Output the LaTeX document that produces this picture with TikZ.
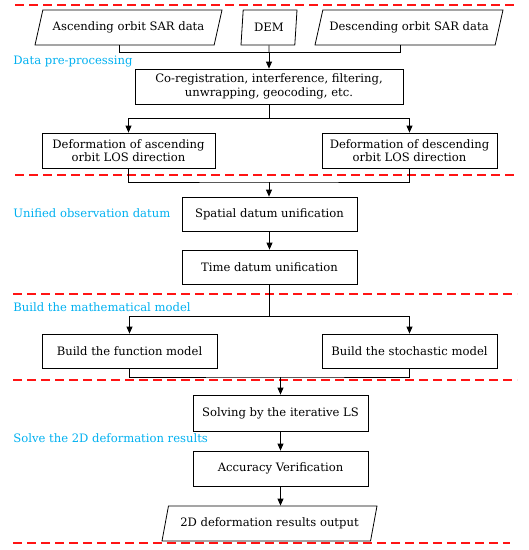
\documentclass[tikz,border=0pt]{standalone}
\usepackage{fontspec}
\setmainfont{DejaVu Serif}
\usetikzlibrary{shapes.geometric,arrows.meta}
\definecolor{stageblue}{RGB}{0,176,240}
\definecolor{sepred}{RGB}{255,20,20}
\begin{document}
\begin{tikzpicture}[
      x=1pt, y=-1pt,
      font=\fontsize{11.6}{13.5}\selectfont,
      proc/.style={draw, rectangle, line width=0.8pt, minimum width=175pt,
        minimum height=35pt, inner sep=2pt, align=center},
      io/.style={draw, trapezium, line width=0.8pt, trapezium stretches body,
        minimum height=35pt, inner sep=2pt, align=center},
      stage/.style={text=stageblue, anchor=west, inner sep=0pt},
      sep/.style={draw=sepred, line width=1.1pt, dash pattern=on 9pt off 5pt},
      arr/.style={-{Triangle[length=7pt,width=6pt]}},
      every path/.style={line width=0.8pt},
    ]
      \useasboundingbox (0,0) rectangle (529,550);

      % stage separators
      \draw[sep] (15,5) -- (516,5);
      \draw[sep] (15,175) -- (516,175);
      \draw[sep] (13,294) -- (517,294);
      \draw[sep] (13,380) -- (517,380);
      \draw[sep] (13,543) -- (510,543);

      % stage names
      \node[stage] (lpre) at (13,62) {Data pre-processing};
      \node[stage] (luni) at (13,213) {Unified observation datum};
      \node[stage] (lmod) at (13,307) {Build the mathematical model};
      \node[stage] (lsol) at (13,438) {Solve the 2D deformation results};

      % input data
      \node[io, trapezium left angle=63, trapezium right angle=117,
        minimum width=187pt] (asc) at (128.5,27.5) {Ascending orbit SAR data};
      \node[io, trapezium left angle=80, trapezium right angle=100,
        minimum width=56pt] (dem) at (269,27.5) {DEM};
      \node[io, trapezium left angle=63, trapezium right angle=117,
        minimum width=188pt] (desc) at (409,27.5) {Descending orbit SAR data};

      % processing steps
      \node[proc, minimum width=268pt] (coreg) at (269,86.5)
        {Co-registration, interference, filtering,\\unwrapping, geocoding, etc.};
      \node[proc, minimum width=173pt] (defa) at (128.5,150.5)
        {Deformation of ascending\\orbit LOS direction};
      \node[proc] (defd) at (409.5,150.5)
        {Deformation of descending\\orbit LOS direction};
      \node[proc, minimum height=34pt] (spat) at (269.5,214) {Spatial datum unification};
      \node[proc, minimum height=34pt] (time) at (269.5,267) {Time datum unification};
      \node[proc, minimum height=34pt] (func) at (129.5,351) {Build the function model};
      \node[proc, minimum height=34pt] (stoc) at (409.5,351) {Build the stochastic model};
      \node[proc, minimum height=36pt] (solv) at (280.5,413) {Solving by the iterative LS};
      \node[proc] (acc) at (280.5,468.5) {Accuracy Verification};
      \node[io, trapezium left angle=67, trapezium right angle=113,
        minimum width=215pt] (out) at (269.5,523.5) {2D deformation results output};

      % junctions
      \coordinate (ja) at (119,52);
      \coordinate (jd) at (400,52);
      \coordinate (j1) at (269,52);
      \coordinate (j2) at (269,118);
      \coordinate (j3) at (269,182);
      \coordinate (j4) at (269,316);
      \coordinate (j5) at (280.5,377);

      % connectors
      \draw (asc.south -| ja) -- (ja) -- (jd) -- (desc.south -| jd);
      \draw (dem.south) -- (j1);
      \draw[arr] (j1) -- (coreg.north);
      \draw (coreg.south) -- (j2);
      \draw[arr] (j2) -| (defa.north);
      \draw[arr] (j2) -| (defd.north);
      \draw (defa.south) |- (j3) -| (defd.south);
      \draw[arr] (j3) -- (spat.north -| j3);
      \draw[arr] (spat) -- (time);
      \draw (time.south -| j4) -- (j4);
      \draw[arr] (j4) -| (func.north);
      \draw[arr] (j4) -| (stoc.north);
      \draw (func.south) |- (j5) -| (stoc.south);
      \draw[arr] (j5) -- (solv.north);
      \draw[arr] (solv) -- (acc);
      \draw[arr] (acc.south) -- (acc.south |- out.north);
    \end{tikzpicture}
\end{document}
